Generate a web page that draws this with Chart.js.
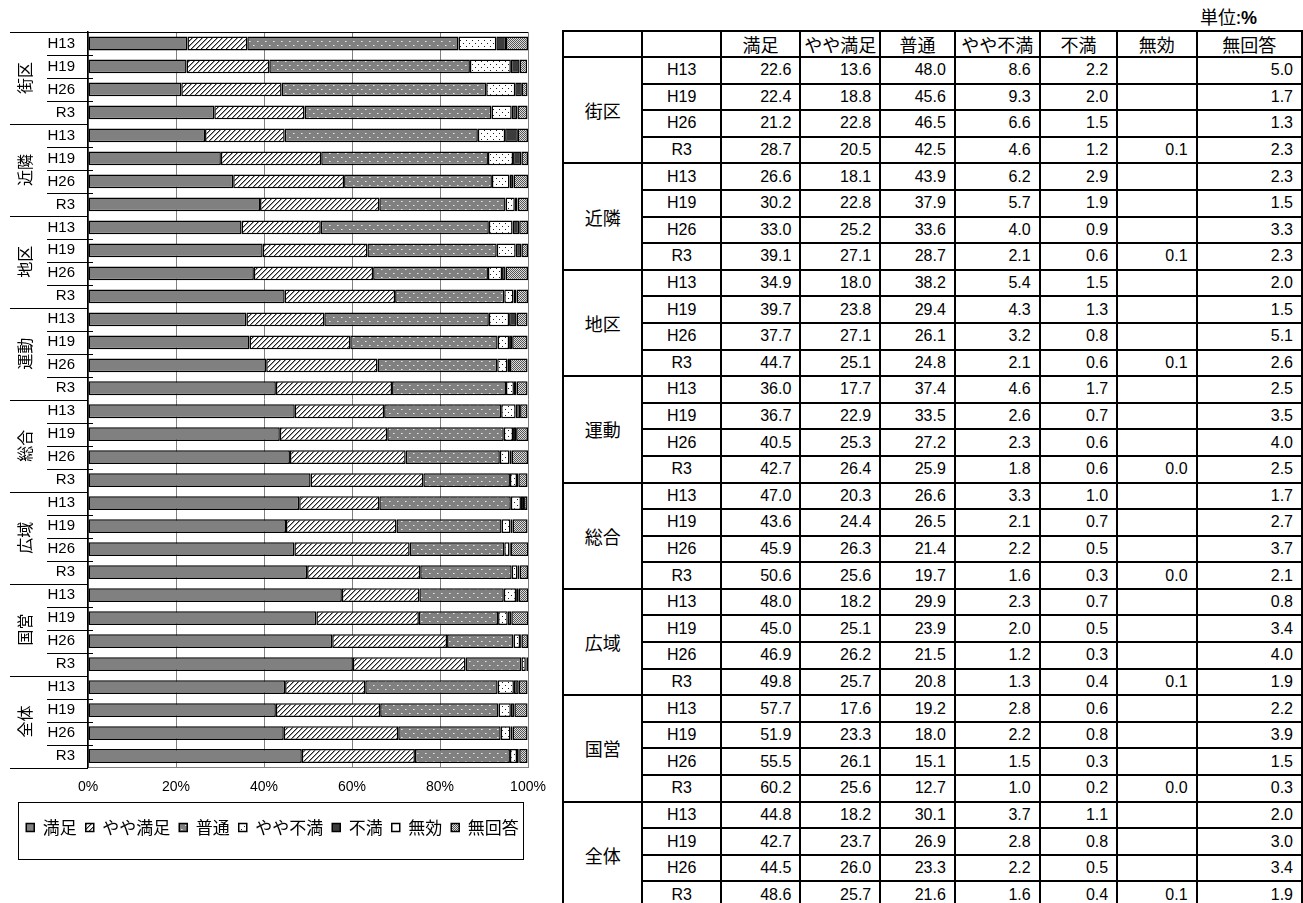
<!DOCTYPE html>
<html>
<head>
<meta charset="utf-8">
<script src="https://cdn.jsdelivr.net/npm/chart.js@4.4.0/dist/chart.umd.min.js"></script>
<style>
html, body { margin: 0; padding: 0; background: #fff; width: 1303px; height: 903px; overflow: hidden; }
#chartBox { position: absolute; left: 0; top: 0; width: 550px; height: 903px; }
#unit { position: absolute; left: 1200px; top: 3px; font: 18px "Noto Sans CJK JP", sans-serif; color: #000; }
#unit b { font-family: "Liberation Sans", Arial, sans-serif; }
#tbl { position: absolute; left: 562px; top: 30px; border-collapse: collapse; table-layout: fixed;
       font: 16px "Liberation Sans", Arial, sans-serif; color: #000; }
#tbl td { border: 2px solid #000; padding: 0 8px 0 0; text-align: right; vertical-align: middle;
          overflow: hidden; white-space: nowrap; line-height: 18px; }
#tbl tr { height: 26.6px; }
#tbl tr.hd { height: 26px; }
#tbl td.c { text-align: center; padding: 0; }
#tbl td.jp { font-family: "Noto Sans CJK JP", sans-serif; font-size: 18px; }
</style>
</head>
<body>
<div id="chartBox"><canvas id="c"></canvas></div>
<div id="unit">単位:<b>%</b></div>
<table id="tbl"></table>
<script>
// groups and survey years (one bar per group/year)
const groups = ['街区', '近隣', '地区', '運動', '総合', '広域', '国営', '全体'];
const years = ['H13', 'H19', 'H26', 'R3'];
const seriesNames = ['満足', 'やや満足', '普通', 'やや不満', '不満', '無効', '無回答'];

// values in %, 4 years per group in the order of groups
const manzoku = [22.6, 22.4, 21.2, 28.7, 26.6, 30.2, 33.0, 39.1, 34.9, 39.7, 37.7, 44.7, 36.0, 36.7, 40.5, 42.7,
                 47.0, 43.6, 45.9, 50.6, 48.0, 45.0, 46.9, 49.8, 57.7, 51.9, 55.5, 60.2, 44.8, 42.7, 44.5, 48.6];
const yayaManzoku = [13.6, 18.8, 22.8, 20.5, 18.1, 22.8, 25.2, 27.1, 18.0, 23.8, 27.1, 25.1, 17.7, 22.9, 25.3, 26.4,
                     20.3, 24.4, 26.3, 25.6, 18.2, 25.1, 26.2, 25.7, 17.6, 23.3, 26.1, 25.6, 18.2, 23.7, 26.0, 25.7];
const futsuu = [48.0, 45.6, 46.5, 42.5, 43.9, 37.9, 33.6, 28.7, 38.2, 29.4, 26.1, 24.8, 37.4, 33.5, 27.2, 25.9,
                26.6, 26.5, 21.4, 19.7, 29.9, 23.9, 21.5, 20.8, 19.2, 18.0, 15.1, 12.7, 30.1, 26.9, 23.3, 21.6];
const yayaFuman = [8.6, 9.3, 6.6, 4.6, 6.2, 5.7, 4.0, 2.1, 5.4, 4.3, 3.2, 2.1, 4.6, 2.6, 2.3, 1.8,
                   3.3, 2.1, 2.2, 1.6, 2.3, 2.0, 1.2, 1.3, 2.8, 2.2, 1.5, 1.0, 3.7, 2.8, 2.2, 1.6];
const fuman = [2.2, 2.0, 1.5, 1.2, 2.9, 1.9, 0.9, 0.6, 1.5, 1.3, 0.8, 0.6, 1.7, 0.7, 0.6, 0.6,
               1.0, 0.7, 0.5, 0.3, 0.7, 0.5, 0.3, 0.4, 0.6, 0.8, 0.3, 0.2, 1.1, 0.8, 0.5, 0.4];
const mukou = [null, null, null, 0.1, null, null, null, 0.1, null, null, null, 0.1, null, null, null, 0.0,
               null, null, null, 0.0, null, null, null, 0.1, null, null, null, 0.0, null, null, null, 0.1];
const mukaitou = [5.0, 1.7, 1.3, 2.3, 2.3, 1.5, 3.3, 2.3, 2.0, 1.5, 5.1, 2.6, 2.5, 3.5, 4.0, 2.5,
                  1.7, 2.7, 3.7, 2.1, 0.8, 3.4, 4.0, 1.9, 2.2, 3.9, 1.5, 0.3, 2.0, 3.0, 3.4, 1.9];

const allSeries = [manzoku, yayaManzoku, futsuu, yayaFuman, fuman, mukou, mukaitou];
const rowLabels = [];
groups.forEach(() => years.forEach(y => rowLabels.push(y)));

const JP = '"Noto Sans CJK JP", sans-serif';
const LAT = '"Liberation Sans", Arial, sans-serif';

// ---- table on the right ----
const colW = [80, 79, 80, 80, 75, 85, 78, 80, 106];
let html = '<colgroup>' + colW.map(w => '<col style="width:' + w + 'px">').join('') + '</colgroup>';
html += '<tr class="hd"><td></td><td></td>' + seriesNames.map(n => '<td class="jp c">' + n + '</td>').join('') + '</tr>';
groups.forEach((g, gi) => {
    years.forEach((y, yi) => {
        const i = gi * 4 + yi;
        html += '<tr>';
        if (yi === 0) html += '<td rowspan="4" class="jp c">' + g + '</td>';
        html += '<td class="c">' + y + '</td>';
        allSeries.forEach(arr => {
            html += '<td>' + (arr[i] === null ? '' : arr[i].toFixed(1)) + '</td>';
        });
        html += '</tr>';
    });
});
document.getElementById('tbl').innerHTML = html;

// ---- fill patterns ----
const cv = document.getElementById('c');
const ctx = cv.getContext('2d');
function makePattern(w, h, bg, dots) {
    const t = document.createElement('canvas');
    t.width = w; t.height = h;
    const tc = t.getContext('2d');
    tc.fillStyle = bg;
    tc.fillRect(0, 0, w, h);
    for (const d of dots) {
        tc.fillStyle = d[2];
        tc.fillRect(d[0], d[1], 1, 1);
    }
    return ctx.createPattern(t, 'repeat');
}
const fills = [
    '#808080',
    makePattern(5, 5, '#ffffff', [[0, 4, '#222'], [1, 3, '#222'], [2, 2, '#222'], [3, 1, '#222'], [4, 0, '#222'],
                                  [1, 4, '#999'], [2, 3, '#999'], [3, 2, '#999'], [4, 1, '#999'], [0, 0, '#999']]),
    makePattern(8, 8, '#808080', [[1, 1, '#e8e8e8'], [2, 1, '#bbb'], [5, 5, '#e8e8e8'], [6, 5, '#bbb']]),
    makePattern(6, 6, '#ffffff', [[1, 1, '#222'], [4, 4, '#222']]),
    '#3c3c3c',
    '#ffffff',
    makePattern(2, 2, '#dcdcdc', [[0, 0, '#555'], [1, 1, '#555']])
];

// ---- extra drawing: category groups, plot frame, legend frame ----
const decoPlugin = {
    id: 'deco',
    afterDraw(chart) {
        const c = chart.ctx;
        const a = chart.chartArea;
        const y = chart.scales.y;
        c.save();
        c.strokeStyle = '#000';
        c.lineWidth = 1;
        const line = (x1, y1, x2, y2) => { c.beginPath(); c.moveTo(x1, y1); c.lineTo(x2, y2); c.stroke(); };
        // top of the plot
        line(a.left, Math.round(a.top) + 0.5, a.right, Math.round(a.top) + 0.5);
        // separators between rows and between groups
        for (let i = 0; i <= rowLabels.length; i++) {
            const py = Math.round(y.getPixelForValue(i - 0.5)) + 0.5;
            if (i % 4 === 0) line(10, py, a.left, py);
            else line(47, py, a.left + 5, py);
        }
        // vertical group names
        c.fillStyle = '#000';
        c.font = '16px ' + JP;
        c.textAlign = 'center';
        c.textBaseline = 'middle';
        groups.forEach((g, gi) => {
            const cy = y.getPixelForValue(gi * 4 + 1.5);
            c.save();
            c.translate(25, cy);
            c.rotate(-Math.PI / 2);
            c.fillText(g, 0, 0);
            c.restore();
        });
        // frame round the legend
        const hb = chart.legend.legendHitBoxes;
        if (hb && hb.length) {
            const last = hb[hb.length - 1];
            const cy = hb[0].top + hb[0].height / 2;
            const x0 = Math.round(hb[0].left - 8) + 0.5;
            const x1 = Math.round(last.left + last.width + 4) + 0.5;
            c.strokeRect(x0, Math.round(cy - 26) + 0.5, x1 - x0, 57);
        }
        c.restore();
    }
};

new Chart(cv, {
    type: 'bar',
    data: {
        labels: rowLabels,
        datasets: allSeries.map((arr, k) => ({
            label: seriesNames[k],
            data: arr,
            backgroundColor: fills[k],
            borderColor: '#000',
            borderWidth: 1.5,
            borderSkipped: false,
            barPercentage: 0.6,
            categoryPercentage: 1.0
        }))
    },
    options: {
        indexAxis: 'y',
        responsive: true,
        maintainAspectRatio: false,
        animation: false,
        layout: { padding: { top: 32, left: 17, right: 22, bottom: 57 } },
        plugins: {
            legend: {
                position: 'bottom',
                labels: {
                    boxWidth: 8,
                    boxHeight: 8,
                    padding: 9,
                    color: '#000',
                    font: { size: 17, family: JP }
                }
            },
            tooltip: { enabled: false }
        },
        scales: {
            x: {
                stacked: true,
                min: 0,
                max: 100,
                ticks: {
                    stepSize: 20,
                    callback: v => v + '%',
                    color: '#000',
                    font: { size: 14, family: LAT },
                    padding: 11
                },
                grid: { color: '#808080', drawTicks: false },
                border: { color: '#808080' },
                afterFit: s => { s.height = 42.5; s.paddingLeft = 0; s.paddingRight = 0; }
            },
            y: {
                stacked: true,
                ticks: {
                    color: '#000',
                    font: { size: 15, family: LAT },
                    padding: 13,
                    autoSkip: false
                },
                grid: { display: false, drawTicks: false },
                border: { color: '#000', width: 1.5 },
                afterFit: s => { s.width = 71; s.paddingTop = 0; s.paddingBottom = 0; }
            }
        }
    },
    plugins: [decoPlugin]
});
</script>
</body>
</html>
